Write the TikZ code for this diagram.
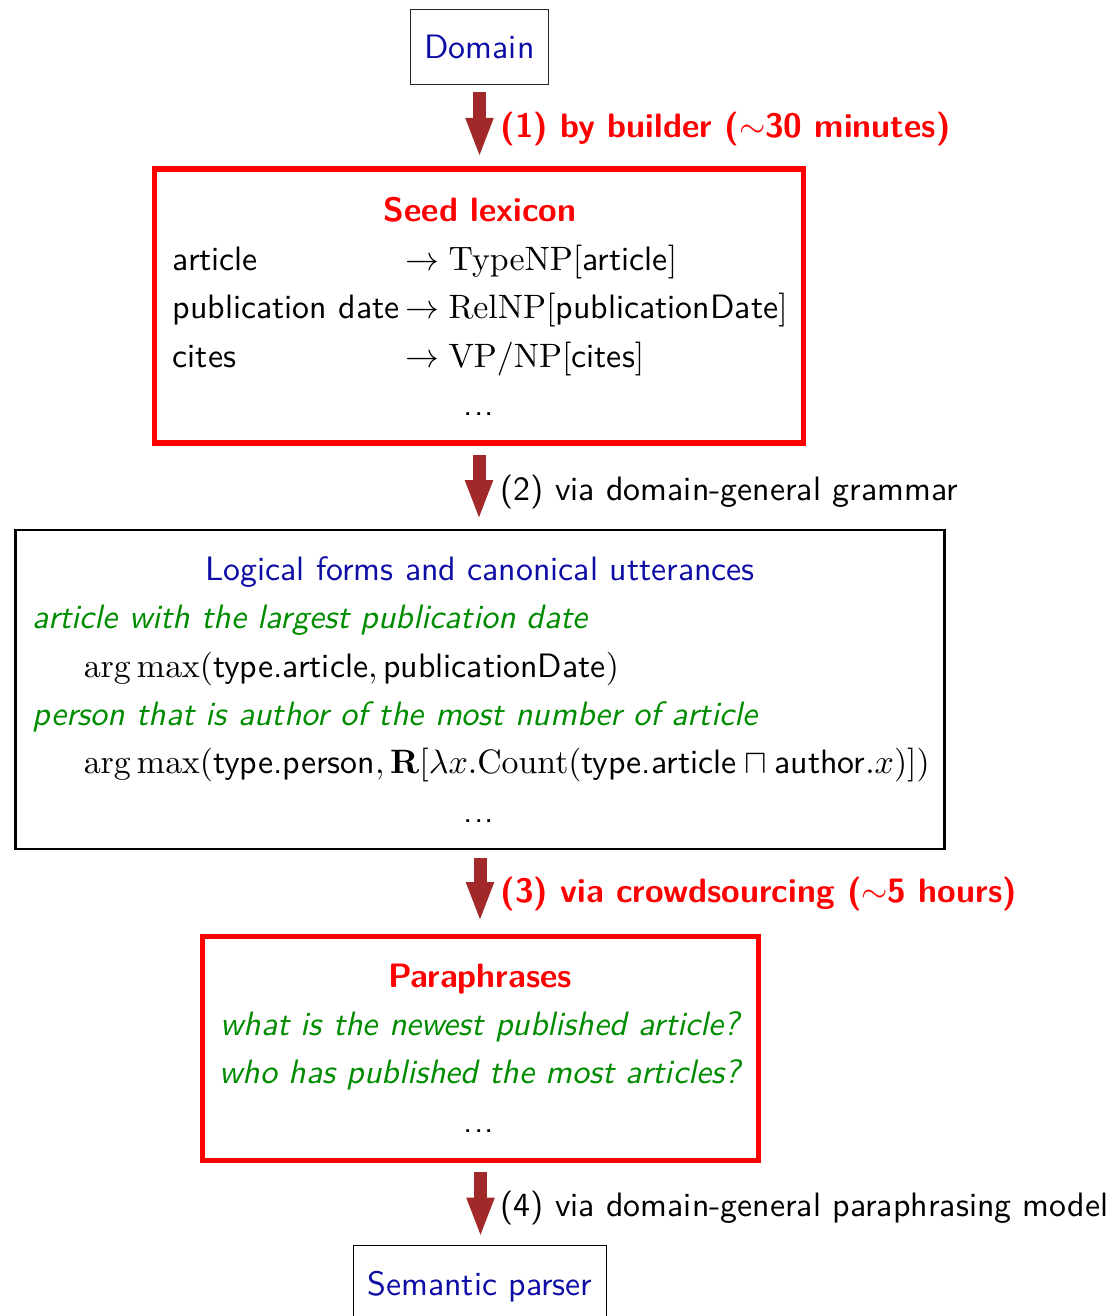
\documentclass[tikz,border=0pt]{standalone}
\usetikzlibrary{arrows.meta}
\renewcommand{\familydefault}{\sfdefault}
\definecolor{titleblue}{rgb}{0.05,0.05,0.65}
\definecolor{uttgreen}{rgb}{0,0.55,0}
\definecolor{steparrow}{rgb}{0.63,0.16,0.16}
\newlength{\lexw}
\settowidth{\lexw}{\sffamily publication date\,}
\newcommand{\lexrow}[2]{\makebox[\lexw][l]{#1}$\rightarrow #2$}
\newcommand{\moredots}{.\kern0.3pt.\kern0.3pt.}
\begin{document}
\begin{tikzpicture}[x=0.2955pt,y=-0.2955pt,
  txt/.style={inner sep=0pt, anchor=base west},
  ctxt/.style={inner sep=0pt, anchor=base},
  thinbox/.style={draw=black!85, line width=0.39pt, inner sep=0pt},
  redbox/.style={draw=red, line width=1.625pt, inner sep=0pt},
  blackbox/.style={draw=black, line width=0.74pt, inner sep=0pt},
  bigarrow/.style={draw=steparrow, line width=3.84pt,
    -{Triangle[width=7.39pt,length=11.82pt,fill=steparrow]}},
  redlabel/.style={txt, text=red, font=\bfseries},
  utt/.style={text=uttgreen, font=\itshape}
]
\useasboundingbox (0,0) rectangle (1109,1316);

% boxes
\node[thinbox, minimum width=40.78pt, minimum height=22.16pt, text=titleblue]
  (domain) at (479.5,47) {Domain};
\node[redbox, minimum width=191.78pt, minimum height=80.97pt] (seed) at (479,306) {};
\node[blackbox, minimum width=274.52pt, minimum height=94.26pt] (lf) at (480,689.5) {};
\node[redbox, minimum width=164.3pt, minimum height=66.19pt] (para) at (480.5,1048.5) {};
\node[thinbox, draw=black, minimum width=74.76pt, minimum height=28.07pt] (parser) at (480,1292.75) {};

% seed lexicon
\node[ctxt, text=red, font=\bfseries] (seedtitle) at (480,221) {Seed lexicon};
\node[txt] (lex1) at (172,270) {\lexrow{article}{\mathrm{TypeNP}[\textsf{article}]}};
\node[txt] (lex2) at (172,318) {\lexrow{publication date}{\mathrm{RelNP}[\textsf{publicationDate}]}};
\node[txt] (lex3) at (172,367) {\lexrow{cites}{\mathrm{VP}/\mathrm{NP}[\textsf{cites}]}};
\node[ctxt] (lexdots) at (479,415) {\moredots};

% logical forms and canonical utterances
\node[ctxt, text=titleblue] (lftitle) at (480,580) {Logical forms and canonical utterances};
\node[txt, utt] (utt1) at (32,628) {article with the largest publication date};
\node[txt] (lf1) at (83,677) {$\arg\max(\textsf{type.article},\textsf{publicationDate})$};
\node[txt, utt] (utt2) at (32,725) {person that is author of the most number of article};
\node[txt] (lf2) at (83,773) {$\arg\max(\textsf{type.person},\mathbf{R}[\lambda x.\mathrm{Count}(\textsf{type.article}\sqcap\textsf{author}.x)])$};
\node[ctxt] (lfdots) at (479,822) {\moredots};

% paraphrases
\node[ctxt, text=red, font=\bfseries] (paratitle) at (480,987) {Paraphrases};
\node[ctxt, utt] (para1) at (480,1035) {what is the newest published article?};
\node[ctxt, utt] (para2) at (480,1083) {who has published the most articles?};
\node[ctxt] (paradots) at (479,1132) {\moredots};

% semantic parser
\node[ctxt, text=titleblue] (parsertext) at (480,1295) {Semantic parser};

% steps
\draw[bigarrow, shorten <=2.07pt, shorten >=2.46pt] (domain.south) -- (domain.south |- seed.north);
\draw[bigarrow, shorten <=2.76pt, shorten >=2.56pt] (seed.south) -- (seed.south |- lf.north);
\draw[bigarrow, shorten <=2.27pt, shorten >=3.45pt] (lf.south) -- (lf.south |- para.north);
\draw[bigarrow, shorten <=2.56pt, shorten >=2.07pt] (para.south) -- (para.south |- parser.north);

\node[redlabel] (step1) at (500,137) {(1) by builder ($\sim$30 minutes)};
\node[txt] (step2) at (500,500) {(2) via domain-general grammar};
\node[redlabel] (step3) at (500,902) {(3) via crowdsourcing ($\sim$5 hours)};
\node[txt] (step4) at (500,1216) {(4) via domain-general paraphrasing model};
\end{tikzpicture}
\end{document}
